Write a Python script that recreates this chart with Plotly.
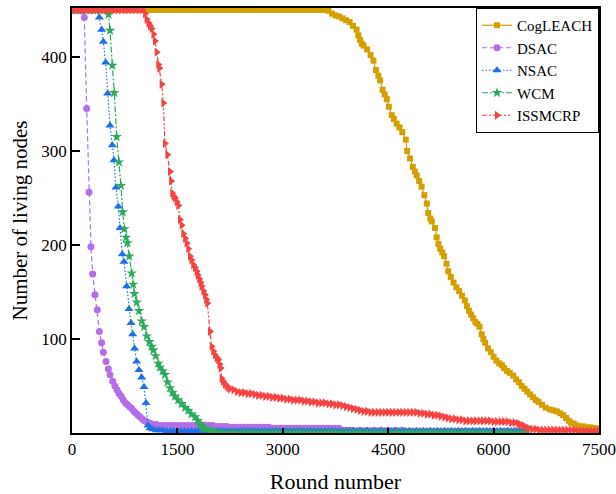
import plotly.graph_objects as go

# ---------------- data ----------------
cog_rounds = [0, 50, 100, 150, 200, 250, 300, 350, 400, 450, 500, 550, 600, 650, 700, 750, 800, 850, 900, 950,
              1000, 1050, 1100, 1150, 1200, 1250, 1300, 1350, 1400, 1450, 1500, 1550, 1600, 1650, 1700, 1750, 1800, 1850, 1900, 1950,
              2000, 2050, 2100, 2150, 2200, 2250, 2300, 2350, 2400, 2450, 2500, 2550, 2600, 2650, 2700, 2750, 2800, 2850, 2900, 2950,
              3000, 3050, 3100, 3150, 3200, 3250, 3300, 3350, 3400, 3450, 3500, 3550,
              3600, 3650, 3700, 3750, 3800, 3850, 3900, 3950, 4000, 4050, 4075, 4100, 4125, 4150, 4200, 4250, 4290, 4325,
              4360, 4385, 4420, 4450, 4480, 4510, 4550, 4580, 4620, 4660, 4700, 4750, 4770, 4810, 4850, 4880, 4905, 4940,
              4975, 5015, 5050, 5070, 5100, 5120, 5165, 5190, 5215, 5240, 5270, 5295, 5330, 5355, 5390, 5430, 5470, 5510,
              5550, 5590, 5620, 5650, 5680, 5710, 5740, 5770, 5800, 5830, 5855, 5880, 5920, 5960, 6000, 6040, 6080, 6120,
              6150, 6190, 6230, 6280, 6320, 6360, 6400, 6440, 6480, 6520, 6560, 6600, 6640, 6690, 6740, 6800, 6850, 6900,
              6950, 6990, 7030, 7070, 7100, 7140, 7180, 7230, 7280, 7330, 7380, 7430, 7480, 7500]
cog_nodes = [450, 450, 450, 450, 450, 450, 450, 450, 450, 450, 450, 450, 450, 450, 450, 450, 450, 450, 450, 450,
             450, 450, 450, 450, 450, 450, 450, 450, 450, 450, 450, 450, 450, 450, 450, 450, 450, 450, 450, 450,
             450, 450, 450, 450, 450, 450, 450, 450, 450, 450, 450, 450, 450, 450, 450, 450, 450, 450, 450, 450,
             450, 450, 450, 450, 450, 450, 450, 450, 450, 450, 450, 450,
             450, 449, 446, 444, 443, 441, 439, 437, 433, 429, 423, 418, 414, 412, 408, 402, 396, 386,
             380, 375, 365, 360, 355, 347, 338, 334, 329, 325, 320, 312, 300, 292, 283, 278, 274, 268,
             262, 253, 244, 234, 228, 225, 218, 208, 201, 196, 192, 188, 180, 172, 166, 160, 155, 151,
             146, 141, 135, 130, 126, 122, 118, 116, 113, 105, 100, 96, 90, 86, 81, 77, 74, 72,
             69, 66, 64, 61, 57, 54, 50, 47, 44, 41, 38, 35, 33, 30, 27, 25, 24, 23,
             21, 19, 16, 13, 11, 10, 8, 7, 7, 6, 6, 5, 5, 4]

dsac_rounds = [0, 50, 100, 140, 175, 209, 242, 270, 294, 327, 360, 389, 422, 446, 484, 517, 541, 579, 610, 640,
               670, 700, 730, 760, 790, 820, 850, 880, 910, 940, 970, 1000, 1030, 1060, 1090, 1120, 1150, 1200, 1250, 1300,
               1350, 1400, 1450, 1500, 1550, 1600, 1650, 1700, 1750, 1800, 1850, 1900, 1950, 2000, 2050, 2100, 2150, 2200,
               2250, 2300, 2350, 2400, 2450, 2500, 2550, 2600, 2650, 2700, 2750, 2800, 2850, 2900, 2950, 3000, 3050, 3100,
               3150, 3200, 3250, 3300, 3350, 3400, 3450, 3500, 3550, 3600, 3650, 3700, 3750, 3800, 3850, 3900, 3950, 4000,
               4100, 4200, 4300, 4400, 4500, 4600, 4700, 4800, 4900, 5000, 5100, 5200, 5300, 5400, 5500, 5600, 5700, 5800,
               5900, 6000, 6100, 6200, 6300, 6400, 6450]
dsac_nodes = [450, 450, 450, 449, 442, 345, 256, 198, 169, 147, 131, 108, 96, 86, 76, 68, 62, 55, 50, 46,
              42, 39, 35, 32, 30, 28, 26, 23, 21, 19, 17, 15, 13, 12, 11, 10, 9, 9, 8, 8,
              8, 8, 8, 8, 8, 8, 8, 8, 8, 8, 8, 8, 8, 8, 7, 7, 7, 7,
              6, 6, 6, 6, 6, 6, 6, 6, 6, 6, 6, 6, 5, 5, 5, 5, 5, 5,
              5, 5, 5, 5, 5, 5, 5, 5, 5, 5, 5, 5, 5, 5, 3, 3, 3, 3,
              3, 3, 3, 3, 3, 3, 3, 2, 2, 2, 2, 2, 2, 2, 2, 2, 2, 2,
              2, 2, 2, 2, 2, 2, 2]

nsac_rounds = [0, 50, 100, 150, 200, 250, 300, 350, 389, 422, 446, 479, 508, 541, 574, 598, 626, 659, 683, 716,
               740, 778, 811, 840, 863, 890, 920, 953, 992, 1025, 1053, 1082, 1110, 1150, 1200, 1250, 1300, 1350, 1400, 1450,
               1500, 1550, 1600, 1650, 1700, 1750, 1800, 1850, 1900, 1950, 2000, 2050, 2100, 2150, 2200, 2250, 2300, 2350,
               2400, 2450, 2500, 2550, 2600, 2650, 2700, 2750, 2800, 2850, 2900, 2950, 3000, 3050, 3100, 3150, 3200, 3250,
               3300, 3350, 3400, 3450, 3500, 3550, 3600, 3650, 3700, 3750, 3800, 3850, 3900, 3950, 4000, 4050, 4100, 4150,
               4200, 4250, 4300, 4350, 4400, 4450, 4500, 4550, 4600, 4650, 4700, 4750, 4800, 4850, 4900, 4950, 5000, 5050,
               5100, 5150, 5200, 5250, 5300, 5350, 5400, 5450, 5500, 5550, 5600, 5650, 5700, 5750, 5800, 5850, 5900, 5950,
               6000, 6050, 6100, 6150, 6200, 6250, 6300, 6350, 6400, 6450]
nsac_nodes = [450, 450, 450, 450, 450, 450, 450, 450, 442, 429, 416, 394, 361, 327, 306, 290, 261, 241, 218, 190,
              182, 156, 132, 117, 105, 90, 76, 67, 59, 49, 32, 8, 5, 4, 3, 3, 3, 2, 2, 2,
              2, 2, 2, 2, 2, 2, 2, 2, 2, 2, 2, 2, 2, 2, 2, 2, 2, 2,
              2, 2, 2, 2, 2, 2, 2, 2, 2, 2, 2, 2, 2, 2, 2, 2, 2, 2,
              2, 2, 2, 2, 2, 2, 2, 2, 2, 2, 2, 2, 2, 2, 2, 2, 2, 2,
              2, 2, 2, 2, 2, 2, 2, 2, 2, 2, 2, 2, 2, 2, 2, 2, 2, 2,
              2, 2, 2, 2, 2, 2, 2, 2, 2, 2, 2, 2, 2, 2, 2, 2, 2, 2,
              2, 2, 2, 2, 2, 2, 2, 2, 2, 2]

wcm_rounds = [0, 50, 100, 150, 200, 250, 300, 350, 400, 450, 500, 520, 541, 574, 602, 636, 669, 697, 721, 745,
              770, 787, 816, 849, 870, 887, 920, 953, 992, 1025, 1063, 1101, 1134, 1157, 1190, 1229, 1252, 1290, 1323, 1360,
              1395, 1430, 1466, 1510, 1561, 1610, 1655, 1700, 1750, 1790, 1822, 1850, 1869, 1900, 1964, 2000, 2050, 2100,
              2150, 2200, 2250, 2300, 2350, 2400, 2450, 2500, 2550, 2600, 2650, 2700, 2750, 2800, 2850, 2900, 2950, 3000,
              3050, 3100, 3150, 3200, 3250, 3300, 3350, 3400, 3450, 3500, 3550, 3600, 3650, 3700, 3750, 3800, 3850, 3900,
              3950, 4000, 4050, 4100, 4150, 4200, 4250, 4300, 4350, 4400, 4450, 4500, 4550, 4600, 4650, 4700, 4750, 4800,
              4850, 4900, 4950, 5000, 5050, 5100, 5150, 5200, 5250, 5300, 5350, 5400, 5450, 5500, 5550, 5600, 5650, 5700,
              5750, 5800, 5850, 5900, 5950, 6000, 6050, 6100, 6150, 6200, 6250, 6300, 6350, 6400, 6450]
wcm_nodes = [450, 450, 450, 450, 450, 450, 450, 450, 450, 450, 450, 445, 428, 391, 362, 315, 288, 263, 235, 217,
             208, 202, 188, 170, 158, 148, 139, 130, 119, 113, 103, 97, 92, 88, 82, 74, 70, 66, 62, 54,
             48, 43, 39, 35, 31, 27, 24, 20, 17, 13, 10, 7, 5, 4, 3, 2, 1, 0,
             0, 0, 0, 0, 0, 0, 0, 0, 0, 0, 0, 0, 0, 0, 0, 0, 0, 0,
             0, 0, 0, 0, 0, 0, 0, 0, 0, 0, 0, 0, 0, 0, 0, 0, 0, 0,
             0, 0, 0, 0, 0, 0, 0, 0, 0, 0, 0, 0, 0, 0, 0, 0, 0, 0,
             0, 0, 0, 0, 0, 0, 0, 0, 0, 0, 0, 0, 0, 0, 0, 0, 0, 0,
             0, 0, 0, 0, 0, 0, 0, 0, 0, 0, 0, 0, 0, 0, 0]

iss_rounds = [0, 50, 100, 150, 200, 250, 300, 350, 400, 450, 500, 550, 600, 650, 700, 750, 800, 850, 900, 950,
              1000, 1040, 1063, 1090, 1110, 1134, 1160, 1181, 1205, 1228, 1243, 1276, 1300, 1323, 1357, 1395, 1410, 1428, 1445, 1466,
              1490, 1513, 1537, 1561, 1584, 1610, 1632, 1655, 1679, 1700, 1726, 1750, 1774, 1790, 1811, 1830, 1845, 1870, 1893, 1910,
              1926, 1964, 1988, 2010, 2035, 2060, 2082, 2100, 2116, 2130, 2150, 2175, 2200, 2225, 2250,
              2300, 2350, 2400, 2450, 2500, 2550, 2600, 2650, 2700, 2750, 2800, 2850, 2900, 2950, 3000, 3050, 3100, 3150,
              3200, 3250, 3300, 3350, 3400, 3450, 3500, 3550, 3600, 3650, 3700, 3750, 3800, 3850, 3900, 3950, 4000, 4050,
              4100, 4150, 4200, 4250, 4300, 4350, 4400, 4450, 4500, 4550, 4600, 4650, 4700, 4750, 4800, 4850, 4900, 4950,
              5000, 5050, 5100, 5150, 5200, 5250, 5300, 5350, 5400, 5450, 5500, 5550, 5600, 5650, 5700, 5750, 5800, 5850,
              5900, 5950, 6000, 6050, 6100, 6150, 6200, 6250, 6300, 6350, 6380, 6420, 6460, 6500, 6550, 6600, 6650, 6700,
              6750, 6800, 6850, 6900, 6950, 7000, 7050, 7100, 7150, 7200, 7250, 7300, 7350, 7400, 7450, 7500]
iss_nodes = [450, 450, 450, 450, 450, 450, 450, 450, 450, 450, 450, 450, 450, 450, 450, 450, 450, 450, 450, 450,
             450, 446, 440, 436, 433, 430, 424, 417, 405, 392, 388, 371, 351, 308, 296, 278, 268, 255, 252, 250,
             246, 242, 227, 221, 212, 207, 202, 196, 188, 184, 179, 176, 172, 168, 164, 160, 156, 151, 147, 142,
             138, 108, 92, 87, 83, 80, 78, 73, 69, 58, 55, 52, 50, 48, 47,
             46, 44, 43, 43, 42, 42, 41, 40, 40, 39, 39, 38, 38, 37, 37, 36, 36, 35,
             35, 35, 34, 34, 33, 33, 32, 32, 32, 31, 31, 30, 30, 29, 28, 27, 26, 25,
             24, 23, 23, 22, 22, 22, 22, 22, 22, 22, 22, 22, 22, 22, 22, 22, 22, 21,
             21, 20, 20, 19, 19, 18, 17, 16, 15, 15, 14, 14, 13, 13, 13, 13, 13, 13,
             13, 13, 12, 12, 12, 12, 12, 11, 11, 10, 9, 8, 6, 5, 4, 4, 3, 3,
             3, 3, 3, 3, 3, 3, 3, 3, 3, 2, 2, 2, 2, 2, 2, 2]

x_ticks = [0, 1500, 3000, 4500, 6000, 7500]
y_ticks = [100, 200, 300, 400]

# ---------------- figure ----------------
SERIF = "Liberation Serif"

series = [
    ("CogLEACH", cog_rounds, cog_nodes, "#D4A000", "solid", "square", 6),
    ("DSAC", dsac_rounds, dsac_nodes, "#B46EE6", "5px,3px", "circle", 7),
    ("NSAC", nsac_rounds, nsac_nodes, "#1E6FE8", "1.5px,2px", "triangle-up", 8),
    ("WCM", wcm_rounds, wcm_nodes, "#2DAA5E", "6px,2px,2px,2px", "star", 8),
    ("ISSMCRP", iss_rounds, iss_nodes, "#F54242", "5px,2px,2px,2px,2px,2px", "triangle-right", 8),
]

fig = go.Figure()
for name, xs, ys, color, dash, symbol, size in series:
    fig.add_trace(go.Scatter(
        x=xs, y=ys, name=name, mode="lines+markers",
        line=dict(color=color, width=1.2, dash=dash),
        marker=dict(symbol=symbol, size=size, color=color, line=dict(width=0)),
    ))

fig.update_layout(
    width=616, height=494,
    margin=dict(l=72, r=17, t=8, b=61, autoexpand=False),
    paper_bgcolor="white", plot_bgcolor="white",
    font=dict(family=SERIF, size=17, color="black"),
    showlegend=True,
    legend=dict(
        x=1, y=1, xanchor="right", yanchor="top",
        bgcolor="white", bordercolor="black", borderwidth=1,
        font=dict(family=SERIF, size=15, color="black"),
        tracegroupgap=0,
    ),
)
fig.update_xaxes(
    range=[0, 7500], tickvals=x_ticks, ticktext=[str(v) for v in x_ticks],
    showgrid=False, zeroline=False, automargin=False,
    showline=True, linecolor="black", linewidth=1.5, mirror=True,
    ticks="inside", ticklen=5, tickwidth=1.5, tickcolor="black",
    tickfont=dict(family=SERIF, size=17),
    title=dict(text="Round number", font=dict(family=SERIF, size=22), standoff=16),
)
fig.update_yaxes(
    range=[0, 452], tickvals=y_ticks, ticktext=[str(v) for v in y_ticks],
    showgrid=False, zeroline=False, automargin=False,
    showline=True, linecolor="black", linewidth=1.5, mirror=True,
    ticks="inside", ticklen=8, tickwidth=1.5, tickcolor="black",
    tickfont=dict(family=SERIF, size=17),
    title=dict(text="Number of living nodes", font=dict(family=SERIF, size=21), standoff=8),
)

fig.write_html("out.html")
